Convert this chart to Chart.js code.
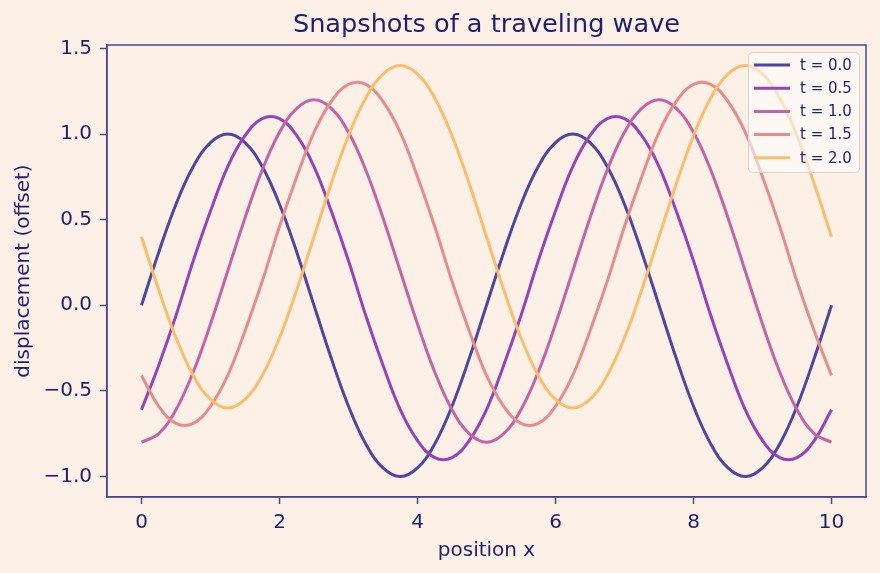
<!DOCTYPE html>
<html>
<head>
<meta charset="utf-8">
<script src="https://cdn.jsdelivr.net/npm/chart.js@4.4.1/dist/chart.umd.min.js"></script>
<style>
  html, body { margin: 0; padding: 0; background: #fdf0e6; }
  #wave { display: block; }
</style>
</head>
<body>
<canvas id="wave" width="880" height="573"></canvas>
<script>
// Posiciones x muestreadas (paso 0.25)
const positions = [0, 0.25, 0.5, 0.75, 1, 1.25, 1.5, 1.75, 2, 2.25, 2.5, 2.75, 3, 3.25, 3.5, 3.75,
  4, 4.25, 4.5, 4.75, 5, 5.25, 5.5, 5.75, 6, 6.25, 6.5, 6.75, 7, 7.25, 7.5, 7.75,
  8, 8.25, 8.5, 8.75, 9, 9.25, 9.5, 9.75, 10];

const waveT00 = [0, 0.31, 0.59, 0.81, 0.95, 1, 0.95, 0.81, 0.59, 0.31, 0, -0.31, -0.59, -0.81, -0.95, -1, -0.95, -0.81, -0.59, -0.31,
  0, 0.31, 0.59, 0.81, 0.95, 1, 0.95, 0.81, 0.59, 0.31, 0, -0.31, -0.59, -0.81, -0.95, -1, -0.95, -0.81, -0.59, -0.31, 0];
const waveT05 = [-0.61, -0.35, -0.06, 0.26, 0.55, 0.81, 0.99, 1.09, 1.09, 0.99, 0.81, 0.55, 0.26, -0.06, -0.35, -0.61, -0.79, -0.89, -0.89, -0.79,
  -0.61, -0.35, -0.06, 0.26, 0.55, 0.81, 0.99, 1.09, 1.09, 0.99, 0.81, 0.55, 0.26, -0.06, -0.35, -0.61, -0.79, -0.89, -0.89, -0.79, -0.61];
const waveT10 = [-0.8, -0.75, -0.61, -0.39, -0.11, 0.2, 0.51, 0.79, 1.01, 1.15, 1.2, 1.15, 1.01, 0.79, 0.51, 0.2, -0.11, -0.39, -0.61, -0.75,
  -0.8, -0.75, -0.61, -0.39, -0.11, 0.2, 0.51, 0.79, 1.01, 1.15, 1.2, 1.15, 1.01, 0.79, 0.51, 0.2, -0.11, -0.39, -0.61, -0.75, -0.8];
const waveT15 = [-0.41, -0.59, -0.69, -0.69, -0.59, -0.41, -0.15, 0.14, 0.46, 0.75, 1.01, 1.19, 1.29, 1.29, 1.19, 1.01, 0.75, 0.46, 0.14, -0.15,
  -0.41, -0.59, -0.69, -0.69, -0.59, -0.41, -0.15, 0.14, 0.46, 0.75, 1.01, 1.19, 1.29, 1.29, 1.19, 1.01, 0.75, 0.46, 0.14, -0.15, -0.41];
const waveT20 = [0.4, 0.09, -0.19, -0.41, -0.55, -0.6, -0.55, -0.41, -0.19, 0.09, 0.4, 0.71, 0.99, 1.21, 1.35, 1.4, 1.35, 1.21, 0.99, 0.71,
  0.4, 0.09, -0.19, -0.41, -0.55, -0.6, -0.55, -0.41, -0.19, 0.09, 0.4, 0.71, 0.99, 1.21, 1.35, 1.4, 1.35, 1.21, 0.99, 0.71, 0.4];

const seriesLabels = ["t = 0.0", "t = 0.5", "t = 1.0", "t = 1.5", "t = 2.0"];
const seriesValues = [waveT00, waveT05, waveT10, waveT15, waveT20];
const seriesColors = ["#4f46a0", "#9444b8", "#c464a8", "#e68c8c", "#fbbd6b"];

const xTicks = [0, 2, 4, 6, 8, 10];
const yTicks = [-1.0, -0.5, 0.0, 0.5, 1.0, 1.5];

const chartTitle = "Snapshots of a traveling wave";

const BG = "#fdf0e6";
const INK = "#1f1f6e";
const FRAME = "#4a4a8a";
const FONT = "'DejaVu Sans', sans-serif";

// Fondo de todo el lienzo
const backgroundPlugin = {
  id: "bg",
  beforeDraw(chart) {
    const ctx = chart.ctx;
    ctx.save();
    ctx.fillStyle = BG;
    ctx.fillRect(0, 0, chart.width, chart.height);
    ctx.restore();
  }
};

// Título centrado sobre el área, marco y leyenda dentro del gráfico
const framePlugin = {
  id: "frame",
  afterDraw(chart) {
    const { ctx, chartArea: a } = chart;
    ctx.save();
    ctx.fillStyle = INK;
    ctx.font = "25.6px " + FONT;
    ctx.textAlign = "center";
    ctx.textBaseline = "middle";
    ctx.fillText(chartTitle, (a.left + a.right) / 2, 25);

    ctx.strokeStyle = FRAME;
    ctx.lineWidth = 1.5;
    ctx.strokeRect(a.left, a.top, a.right - a.left, a.bottom - a.top);

    // leyenda
    const bx = 748.5, by = 52.5, bw = 111, bh = 120;
    ctx.beginPath();
    ctx.roundRect(bx, by, bw, bh, 4);
    ctx.fillStyle = "rgba(255,255,255,0.55)";
    ctx.fill();
    ctx.strokeStyle = "#dcd3cf";
    ctx.lineWidth = 1;
    ctx.stroke();

    ctx.font = "15px " + FONT;
    ctx.textBaseline = "middle";
    ctx.textAlign = "left";
    chart.data.datasets.forEach((ds, i) => {
      const y = 65 + i * 23.2;
      ctx.strokeStyle = ds.borderColor;
      ctx.lineWidth = 3;
      ctx.beginPath();
      ctx.moveTo(754, y);
      ctx.lineTo(790, y);
      ctx.stroke();
      ctx.fillStyle = INK;
      ctx.fillText(ds.label, 800, y + 1);
    });
    ctx.restore();
  }
};

const datasets = seriesLabels.map((label, i) => ({
  label,
  data: positions.map((x, j) => ({ x, y: seriesValues[i][j] })),
  borderColor: seriesColors[i],
  borderWidth: 3,
  pointRadius: 0,
  tension: 0.4,
  fill: false,
  order: seriesLabels.length - i
}));

new Chart(document.getElementById("wave").getContext("2d"), {
  type: "line",
  data: { datasets },
  plugins: [backgroundPlugin, framePlugin],
  options: {
    responsive: false,
    animation: false,
    layout: { padding: { left: 0, right: 14, top: 45, bottom: 0 } },
    plugins: {
      legend: { display: false },
      tooltip: { enabled: false },
      title: { display: false }
    },
    scales: {
      x: {
        type: "linear",
        min: -0.5,
        max: 10.5,
        afterBuildTicks: (scale) => { scale.ticks = xTicks.map((v) => ({ value: v })); },
        afterFit: (scale) => { scale.height = 76; },
        ticks: {
          color: INK,
          font: { family: FONT, size: 20 },
          padding: 7,
          maxRotation: 0,
          callback: (v) => String(v)
        },
        grid: { drawOnChartArea: false, tickLength: 7, tickColor: FRAME, tickWidth: 1.5 },
        border: { display: true, color: FRAME, width: 1.5 },
        title: {
          display: true,
          text: "position x",
          color: INK,
          font: { family: FONT, size: 20 },
          padding: { top: 0, bottom: 10 }
        }
      },
      y: {
        type: "linear",
        min: -1.12,
        max: 1.52,
        afterBuildTicks: (scale) => { scale.ticks = yTicks.map((v) => ({ value: v })); },
        afterFit: (scale) => { scale.width = 107; },
        ticks: {
          color: INK,
          font: { family: FONT, size: 20 },
          padding: 8,
          callback: (v) => v.toFixed(1).replace("-", "\u2212")
        },
        grid: { drawOnChartArea: false, tickLength: 7, tickColor: FRAME, tickWidth: 1.5 },
        border: { display: true, color: FRAME, width: 1.5 },
        title: {
          display: true,
          text: "displacement (offset)",
          color: INK,
          font: { family: FONT, size: 20 },
          padding: { top: 12, bottom: 0 }
        }
      }
    }
  }
});
</script>
</body>
</html>
